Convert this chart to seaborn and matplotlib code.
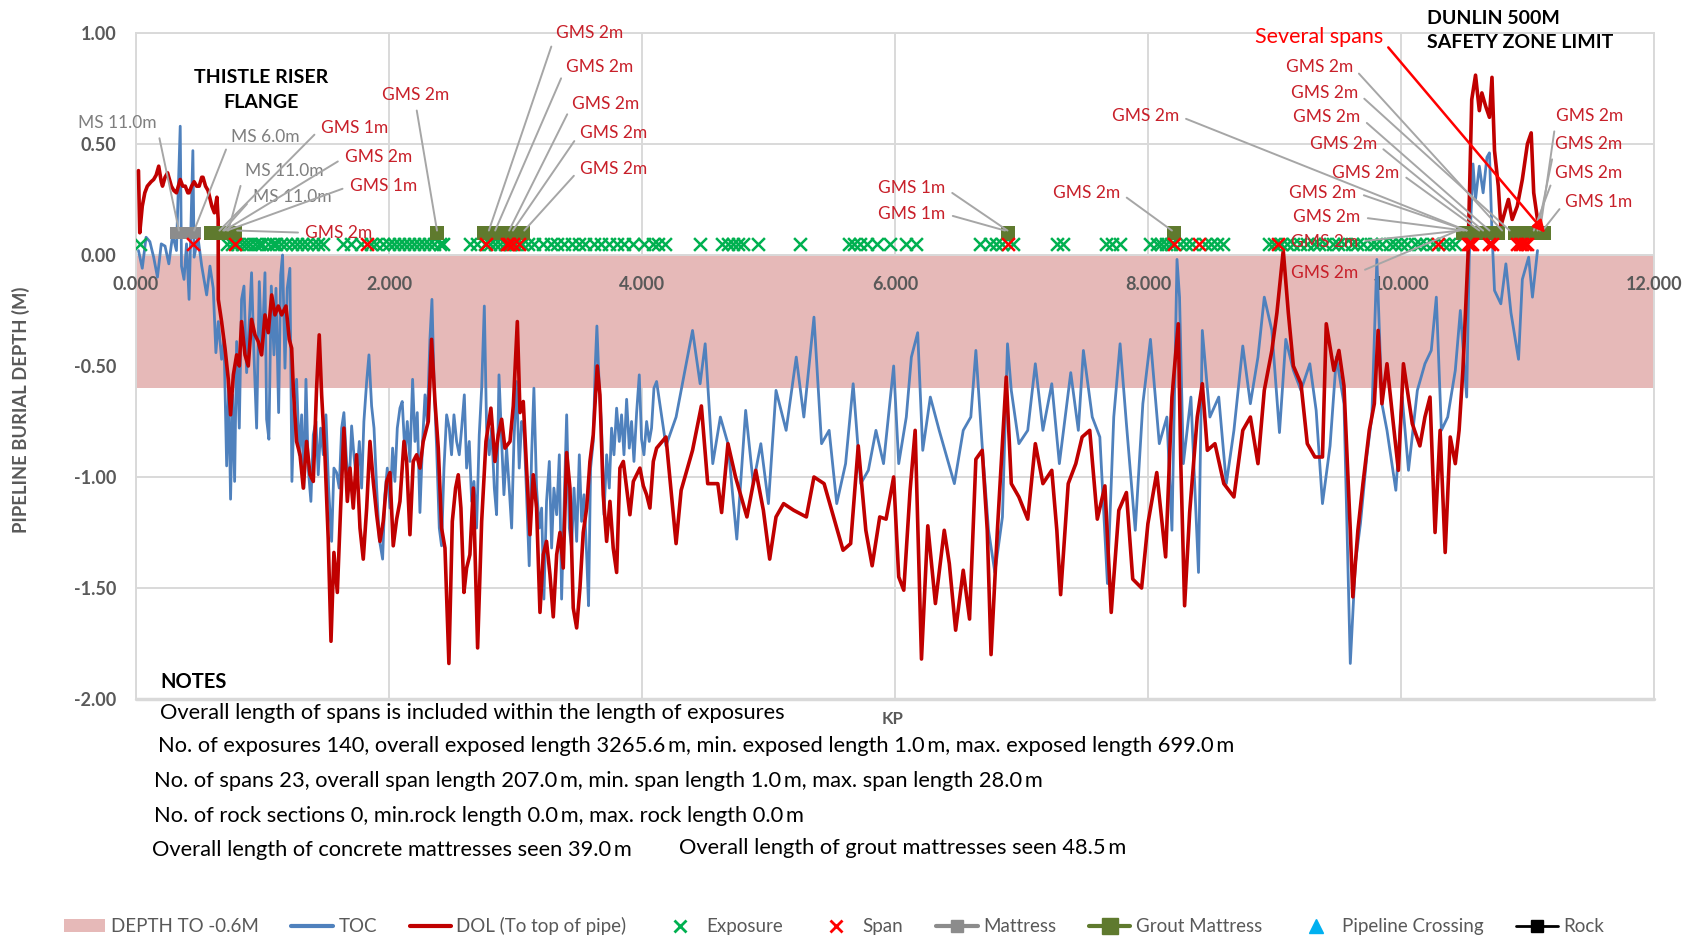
import matplotlib
matplotlib.use("Agg")
import matplotlib.pyplot as plt
import seaborn as sns
from matplotlib.lines import Line2D
from matplotlib.patches import Patch

# ---------------- data ----------------
TOC_KP = [0.02,0.05,0.08,0.11,0.14,0.17,0.20,0.23,0.26,0.29,0.32,0.35,0.36,0.38,0.40,0.42,0.45,0.46,0.49,0.52,
          0.532,0.559,0.585,0.611,0.632,0.651,0.677,0.696,0.717,0.733,0.748,0.764,0.780,0.796,0.817,0.835,0.854,0.875,0.896,0.914,
          0.933,0.954,0.975,0.996,1.020,1.033,1.051,1.070,1.091,1.107,1.128,1.144,1.159,1.178,1.196,1.217,1.233,1.252,1.270,1.291,
          1.310,1.328,1.344,1.362,1.383,1.402,1.423,1.441,1.460,1.481,1.502,1.523,1.547,1.565,1.586,1.607,1.626,1.644,1.665,1.686,
          1.705,1.723,1.744,1.766,1.784,1.802,1.824,1.842,1.863,1.882,1.903,1.924,1.950,1.968,1.987,2.008,2.029,2.047,2.066,2.087,
          2.105,2.127,2.145,2.166,2.187,2.206,2.224,2.245,2.266,2.285,2.303,2.324,2.340,2.358,2.377,2.398,2.416,2.435,2.456,2.477,
          2.495,2.514,2.535,2.556,2.575,2.596,2.614,2.635,2.654,2.672,2.693,2.714,2.733,2.754,2.772,2.793,2.812,2.833,2.851,2.870,
          2.891,2.909,2.930,2.951,2.970,2.988,3.009,3.030,3.049,3.067,3.088,3.109,3.128,3.146,3.167,3.189,3.207,3.225,3.246,3.268,
          3.286,3.304,3.326,3.347,3.365,3.384,3.405,3.426,3.444,3.463,3.484,3.505,3.523,3.542,3.563,3.578,3.594,3.615,3.631,3.644,
          3.663,3.681,3.700,3.721,3.742,3.760,3.779,3.800,3.821,3.839,3.858,3.879,3.900,3.918,3.937,3.958,3.979,3.997,4.016,4.037,
          4.058,4.076,4.095,4.116,
          4.19,4.27,4.33,4.40,4.46,4.50,4.56,4.62,4.68,4.75,4.82,4.88,4.94,5.00,5.06,5.14,5.22,5.28,5.36,5.42,5.48,5.54,
          5.61,5.67,5.73,5.79,5.85,5.91,5.99,6.03,
          6.09,6.13,6.18,6.22,6.28,6.35,6.41,6.47,6.54,6.60,6.64,6.69,6.74,6.79,6.85,6.89,6.92,6.98,7.05,7.11,7.17,7.24,7.30,7.39,
          7.45,7.49,7.56,7.62,7.68,7.73,7.78,7.83,7.90,7.96,8.02,8.09,8.15,8.19,8.23,8.25,8.28,8.34,8.40,8.43,8.49,8.56,8.62,8.68,
          8.75,8.81,8.87,8.92,8.98,9.04,9.09,9.15,9.21,9.28,9.33,9.38,9.44,9.49,9.55,9.60,9.64,9.68,9.73,9.77,9.81,9.85,9.89,9.96,
          10.01,10.06,10.13,10.19,10.24,10.28,10.32,10.37,10.43,10.47,10.52,10.54,
          10.57,10.59,10.62,10.65,10.68,10.70,10.72,10.74,10.79,10.83,10.87,10.93,10.96,11.01,11.04,11.08]
TOC_DEPTH = [0.02,-0.06,0.08,0.06,-0.01,-0.10,0.05,0.04,-0.04,0.09,0.02,0.58,-0.05,-0.11,0.05,-0.20,0.47,-0.01,0.08,-0.05,
             -0.09,-0.18,-0.05,-0.15,-0.44,-0.30,-0.47,-0.38,-0.95,-0.60,-1.10,-0.63,-1.02,-0.39,-0.78,-0.20,-0.14,-0.53,-0.30,-0.08,
             -0.45,-0.78,-0.12,-0.45,-0.08,-0.74,-0.83,-0.14,-0.45,-0.15,-0.71,-0.09,0.00,-0.51,-0.15,-0.06,-1.02,-0.65,-0.56,-0.90,
             -0.72,-1.05,-0.56,-0.96,-1.11,-0.81,-0.75,-0.99,-0.78,-0.90,-0.72,-1.05,-1.29,-0.96,-0.98,-1.05,-0.78,-0.71,-0.93,-1.04,
             -0.77,-0.90,-1.02,-0.84,-1.05,-0.75,-0.57,-0.45,-0.68,-0.78,-1.05,-1.28,-1.37,-1.08,-0.96,-1.14,-0.87,-1.02,-0.78,-0.69,
             -0.66,-0.90,-0.75,-0.93,-0.56,-0.84,-0.71,-1.16,-0.84,-0.63,-0.75,-0.38,-0.20,-0.60,-0.87,-1.23,-1.31,-0.96,-0.72,-0.78,
             -0.90,-0.72,-0.84,-0.90,-0.78,-0.63,-0.96,-0.84,-1.11,-1.02,-1.23,-0.81,-0.60,-0.23,-0.78,-0.90,-0.78,-1.05,-1.17,-0.54,
             -0.84,-1.08,-0.87,-1.05,-1.23,-0.84,-0.57,-0.96,-0.75,-0.78,-1.08,-1.40,-0.90,-0.60,-1.05,-1.23,-1.14,-1.55,-1.11,-0.93,
             -1.32,-1.05,-1.17,-0.90,-1.55,-1.14,-0.72,-1.23,-1.32,-1.05,-1.29,-0.90,-1.20,-1.08,-1.35,-1.58,-0.96,-0.84,-0.50,-0.32,
             -0.60,-0.78,-1.17,-0.90,-1.05,-0.78,-0.90,-0.69,-0.84,-0.72,-0.90,-0.65,-0.87,-0.75,-0.93,-0.71,-0.54,-0.83,-0.90,-0.75,
             -0.84,-0.78,-0.60,-0.57,
             -0.86,-0.73,-0.55,-0.34,-0.58,-0.40,-0.94,-0.73,-0.85,-1.28,-0.70,-1.03,-0.85,-1.12,-0.61,-0.79,-0.46,-0.73,-0.28,-0.85,-0.79,-1.12,
             -0.94,-0.58,-1.03,-0.97,-0.79,-0.94,-0.50,-0.94,
             -0.73,-0.46,-0.35,-0.88,-0.64,-0.79,-0.91,-1.03,-0.79,-0.73,-0.43,-0.86,-1.24,-1.43,-1.18,-0.40,-0.61,-0.85,-0.79,-0.49,-0.79,-0.58,-0.94,-0.53,
             -0.79,-0.43,-0.73,-0.82,-1.48,-0.73,-0.40,-0.76,-1.24,-0.67,-0.38,-0.85,-0.73,-1.24,-0.02,-0.19,-0.94,-0.64,-1.43,-0.34,-0.73,-0.64,-1.03,-0.79,
             -0.41,-0.67,-0.46,-0.19,-0.34,-0.80,-0.38,-0.52,-0.61,-0.49,-0.70,-1.12,-0.86,-0.46,-0.67,-1.84,-1.39,-1.21,-0.91,-0.73,-0.02,-0.67,-0.79,-1.06,
             -0.64,-0.97,-0.61,-0.49,-0.43,-0.19,-0.79,-0.73,-0.52,-0.25,-0.64,-0.02,
             0.41,0.25,0.40,0.28,0.44,0.46,0.10,-0.16,-0.22,-0.04,-0.26,-0.47,-0.11,-0.01,-0.19,0.02]

DOL_KP = [0.02,0.03,0.05,0.07,0.09,0.12,0.14,0.16,0.18,0.20,0.21,0.23,0.25,0.27,0.28,0.30,0.32,0.34,0.35,0.37,
          0.39,0.41,0.42,0.44,0.46,0.48,0.50,0.52,0.53,0.55,0.57,0.60,0.62,0.64,0.65,
          0.651,0.677,0.704,0.730,0.748,0.770,0.796,0.817,0.835,0.862,0.888,0.914,0.941,0.967,0.993,1.020,1.046,1.073,1.099,1.125,
          1.152,1.186,1.212,1.231,1.244,1.270,1.297,1.323,1.349,1.376,1.402,1.428,1.449,1.468,1.494,1.520,1.542,1.565,1.592,1.618,
          1.644,1.671,1.692,1.718,1.744,1.771,1.797,1.824,1.850,1.876,1.903,1.929,1.955,1.982,2.008,2.034,2.061,2.087,2.119,2.140,
          2.166,2.192,2.219,2.245,2.271,2.311,2.337,2.364,2.390,2.416,2.443,2.474,2.501,2.527,2.548,2.569,2.593,2.614,2.640,2.667,
          2.701,2.733,2.767,2.806,2.838,2.864,2.891,2.917,2.957,2.983,3.015,3.036,3.062,3.088,3.115,3.141,3.167,3.194,3.220,3.246,
          3.273,3.299,3.326,3.352,3.378,3.405,3.431,3.457,3.484,3.510,3.536,3.563,3.589,3.615,3.647,3.668,3.694,3.721,3.747,3.773,
          3.800,3.826,3.853,3.879,3.905,3.932,3.958,3.984,4.011,4.037,4.063,4.090,4.116,
          4.19,4.27,4.31,4.40,4.47,4.52,4.60,4.63,4.68,4.74,4.83,4.90,4.96,5.01,5.06,5.12,5.20,5.30,5.36,5.44,5.52,5.59,5.65,5.71,5.77,
          5.82,5.88,5.93,5.99,6.03,
          6.07,6.12,6.16,6.21,6.26,6.32,6.39,6.43,6.48,6.54,6.59,6.64,6.69,6.73,6.76,6.81,6.88,6.92,6.98,7.05,
          7.11,7.17,7.24,7.28,7.31,7.37,7.43,7.48,7.54,7.60,7.66,7.71,7.77,7.83,7.88,7.95,8.00,8.07,8.14,8.19,
          8.24,8.26,8.29,8.33,8.39,8.43,8.47,8.53,8.60,8.68,8.75,8.81,8.87,8.92,8.98,9.02,9.07,9.11,9.15,9.21,
          9.26,9.32,9.38,9.41,9.47,9.51,9.55,9.60,9.62,9.66,9.70,9.75,9.79,9.82,9.85,9.89,9.94,9.98,10.02,10.09,
          10.15,10.19,10.23,10.27,10.31,10.35,10.39,10.43,10.46,10.49,10.53,
          10.56,10.59,10.62,10.64,10.67,10.70,10.72,10.74,10.77,10.79,10.82,10.85,10.88,10.92,10.96,11.00,11.03,11.05,11.08,11.11]
DOL_DEPTH = [0.38,0.10,0.22,0.28,0.31,0.33,0.34,0.36,0.40,0.33,0.31,0.35,0.37,0.33,0.31,0.29,0.28,0.32,0.34,0.31,
             0.31,0.28,0.28,0.31,0.33,0.31,0.31,0.35,0.35,0.31,0.29,0.22,0.19,0.26,0.16,
             -0.20,-0.30,-0.42,-0.56,-0.72,-0.54,-0.45,-0.50,-0.30,-0.45,-0.50,-0.29,-0.36,-0.39,-0.45,-0.27,-0.35,-0.18,-0.27,-0.23,
             -0.27,-0.23,-0.38,-0.42,-0.60,-0.84,-0.90,-1.05,-0.84,-0.99,-1.02,-0.60,-0.36,-0.63,-0.90,-1.28,-1.74,-1.34,-1.52,-1.14,
             -0.78,-1.11,-0.96,-1.14,-0.90,-1.23,-1.37,-1.14,-0.84,-1.02,-1.17,-1.29,-1.20,-1.02,-0.98,-1.31,-1.19,-1.11,-0.84,-0.93,
             -1.26,-0.93,-0.90,-0.96,-0.84,-0.75,-0.38,-0.66,-0.87,-1.23,-1.32,-1.84,-1.20,-1.05,-0.99,-1.14,-1.52,-1.41,-1.35,-1.05,
             -1.77,-1.20,-0.84,-0.69,-0.93,-0.81,-0.74,-0.87,-0.84,-0.68,-0.30,-0.71,-0.66,-0.96,-1.26,-0.99,-1.14,-1.61,-1.35,-1.29,
             -1.44,-1.63,-1.35,-1.25,-1.41,-0.89,-1.05,-1.59,-1.68,-1.50,-1.25,-1.14,-0.93,-0.81,-0.50,-0.63,-1.08,-1.29,-1.11,-1.32,
             -1.43,-0.96,-0.93,-1.05,-1.17,-1.02,-0.99,-0.96,-1.04,-1.08,-1.14,-0.93,-0.87,
             -0.82,-1.30,-1.06,-0.88,-0.68,-1.03,-1.03,-1.16,-0.85,-1.00,-1.18,-0.97,-1.15,-1.37,-1.18,-1.12,-1.15,-1.18,-1.00,-1.03,-1.19,-1.33,-1.30,-0.86,-1.24,
             -1.40,-1.18,-1.19,-1.00,-1.45,
             -1.51,-1.06,-0.79,-1.82,-1.22,-1.57,-1.24,-1.39,-1.69,-1.42,-1.64,-0.92,-0.88,-1.24,-1.80,-1.24,-0.55,-1.03,-1.09,-1.19,
             -0.85,-1.03,-0.97,-1.24,-1.53,-1.03,-0.94,-0.82,-0.79,-1.19,-1.04,-1.61,-1.15,-1.07,-1.46,-1.50,-1.21,-0.98,-1.36,-0.64,
             -0.31,-0.94,-1.58,-1.16,-0.73,-0.58,-0.88,-0.85,-1.03,-1.09,-0.79,-0.73,-0.94,-0.61,-0.43,-0.26,0.02,-0.26,-0.50,-0.58,
             -0.85,-0.91,-0.91,-0.31,-0.52,-0.43,-0.59,-1.24,-1.54,-1.24,-1.03,-0.79,-0.67,-0.34,-0.67,-0.49,-0.76,-0.97,-0.49,-0.76,
             -0.86,-0.73,-0.64,-1.25,-0.79,-1.34,-0.82,-0.94,-0.79,-0.52,-0.01,
             0.70,0.81,0.65,0.73,0.67,0.62,0.80,0.47,0.31,0.13,0.19,0.25,0.16,0.22,0.34,0.50,0.55,0.28,0.16,0.10]

EXPOSURE_KP = [0.03,0.72,0.76,0.80,0.84,0.87,0.90,0.94,0.97,1.00,1.04,1.08,1.11,1.15,1.19,1.23,1.27,1.31,1.35,1.40,1.44,1.48,
               1.64,1.70,1.78,1.86,1.90,1.95,2.00,2.04,2.08,2.12,2.16,2.20,2.24,2.28,2.32,2.36,2.40,2.43,
               2.64,2.70,2.76,2.80,2.84,2.88,2.92,2.96,3.00,3.05,3.10,3.15,3.22,3.28,3.33,3.38,3.45,3.50,3.55,3.62,3.68,3.74,3.80,3.86,3.93,
               4.02,4.09,4.13,4.18,4.46,4.63,4.68,4.72,4.76,4.80,4.92,5.25,5.64,5.68,5.72,5.78,5.86,5.96,6.09,6.17,
               6.67,6.75,6.80,6.85,6.93,7.28,7.33,7.67,7.72,7.78,8.02,8.07,8.10,8.14,8.18,8.25,8.30,8.35,8.45,8.50,8.55,8.59,
               8.96,9.00,9.05,9.10,9.15,9.20,9.26,9.31,9.35,9.40,9.46,9.50,9.55,9.61,9.65,9.70,9.76,9.80,9.85,9.91,9.95,
               10.00,10.05,10.11,10.15,10.20,10.25,10.33,10.38,10.43]
SPAN_KP = [0.45,0.78,1.83,2.77,2.93,2.95,2.98,3.03,6.89,8.21,8.40,9.03,10.29,10.53,10.55,10.56,10.70,10.72,10.92,10.94,10.96,10.98,11.00]
MATTRESS_KP = [0.32,0.37,0.42,0.47]
GROUT_KP = [0.59,0.64,0.69,0.74,0.78,2.38,2.75,2.82,2.88,2.94,3.00,3.06,6.89,8.21,
            10.49,10.55,10.61,10.67,10.73,10.77,10.90,10.96,11.02,11.08,11.13]
EXPOSURE_LEVEL = 0.05
MATTRESS_LEVEL = 0.10

X_TICKS = [0, 2, 4, 6, 8, 10, 12]
Y_TICKS = [-2.0, -1.5, -1.0, -0.5, 0.0, 0.5, 1.0]

LEGEND_LABELS = ["DEPTH TO -0.6M", "TOC", "DOL (To top of pipe)", "Exposure", "Span",
                 "Mattress", "Grout Mattress", "Pipeline Crossing", "Rock"]

NOTES = ["Overall length of spans is included within the length of exposures",
         "No. of exposures 140, overall exposed length 3265.6\u2009m, min. exposed length 1.0\u2009m, max. exposed length 699.0\u2009m",
         "No. of spans 23, overall span length 207.0\u2009m, min. span length 1.0\u2009m, max. span length 28.0\u2009m",
         "No. of rock sections 0, min.rock length 0.0\u2009m, max. rock length 0.0\u2009m",
         "Overall length of concrete mattresses seen 39.0\u2009m",
         "Overall length of grout mattresses seen 48.5\u2009m"]

# annotations: (text, kind, text_x, text_y, ha, target_x, target_y)
ANNOTATIONS = [
    ("MS 11.0m", "ms", 0.16, 0.595, "right", 0.34, 0.11),
    ("MS 6.0m", "ms", 0.75, 0.53, "left", 0.46, 0.11),
    ("MS 11.0m", "ms", 0.86, 0.38, "left", 0.73, 0.11),
    ("MS 11.0m", "ms", 0.925, 0.26, "left", 0.69, 0.11),
    ("GMS 1m", "gms", 1.46, 0.57, "left", 0.66, 0.11),
    ("GMS 2m", "gms", 1.65, 0.44, "left", 0.70, 0.11),
    ("GMS 1m", "gms", 1.69, 0.31, "left", 0.72, 0.11),
    ("GMS 2m", "gms", 1.34, 0.10, "left", 0.80, 0.11),
    ("GMS 2m", "gms", 2.21, 0.72, "center", 2.38, 0.11),
    ("GMS 2m", "gms", 3.32, 1.00, "left", 2.79, 0.11),
    ("GMS 2m", "gms", 3.40, 0.847, "left", 2.84, 0.11),
    ("GMS 2m", "gms", 3.45, 0.68, "left", 2.95, 0.11),
    ("GMS 2m", "gms", 3.51, 0.55, "left", 2.98, 0.11),
    ("GMS 2m", "gms", 3.51, 0.387, "left", 3.07, 0.11),
    ("GMS 1m", "gms", 6.40, 0.30, "right", 6.89, 0.11),
    ("GMS 1m", "gms", 6.40, 0.185, "right", 6.87, 0.11),
    ("GMS 2m", "gms", 7.78, 0.28, "right", 8.19, 0.11),
    ("GMS 2m", "gms", 8.245, 0.626, "right", 10.52, 0.11),
    ("GMS 2m", "gms", 9.62, 0.847, "right", 10.80, 0.11),
    ("GMS 2m", "gms", 9.66, 0.73, "right", 10.86, 0.11),
    ("GMS 2m", "gms", 9.68, 0.62, "right", 10.70, 0.11),
    ("GMS 2m", "gms", 9.81, 0.50, "right", 10.65, 0.11),
    ("GMS 2m", "gms", 9.99, 0.37, "right", 10.62, 0.11),
    ("GMS 2m", "gms", 9.65, 0.28, "right", 10.52, 0.11),
    ("GMS 2m", "gms", 9.68, 0.17, "right", 10.50, 0.11),
    ("GMS 2m", "gms", 9.66, 0.06, "right", 10.47, 0.11),
    ("GMS 2m", "gms", 9.66, -0.08, "right", 10.45, 0.11),
    ("GMS 2m", "gms", 11.23, 0.626, "left", 11.10, 0.11),
    ("GMS 2m", "gms", 11.22, 0.50, "left", 11.08, 0.11),
    ("GMS 2m", "gms", 11.22, 0.37, "left", 11.05, 0.11),
    ("GMS 1m", "gms", 11.30, 0.24, "left", 11.12, 0.11),
]

# ---------------- style ----------------
PINK = "#E6B9B8"
BLUE = "#4F81BD"
RED = "#C00000"
GREEN = "#00B050"
SPANRED = "#FF0000"
GRAY = "#8C8C8C"
OLIVE = "#5F7A2E"
GRID = "#D9D9D9"
TXT = "#595959"
GMS_COLOR = "#C8202A"
MS_COLOR = "#7F7F7F"

sns.set_theme(style="white")
plt.rcParams['font.family'] = ['Lato', 'DejaVu Sans']

fig = plt.figure(figsize=(16.93, 9.39), dpi=100)
ax = fig.add_axes([0.0803, 0.2556, 0.8966, 0.7093])

# grid drawn beneath the pink band, tick labels above it
for xv in X_TICKS:
    ax.axvline(xv, color=GRID, lw=1.4, zorder=0.6)
for yv in Y_TICKS:
    ax.axhline(yv, color=GRID, lw=1.4, zorder=0.6)
ax.axhspan(-0.6, 0, color=PINK, zorder=1, lw=0)
ax.axhline(0, color=GRID, lw=1.4, zorder=1.1)

sns.lineplot(x=TOC_KP, y=TOC_DEPTH, ax=ax, color=BLUE, lw=2.0, sort=False, estimator=None, zorder=3)
sns.lineplot(x=DOL_KP, y=DOL_DEPTH, ax=ax, color=RED, lw=2.6, sort=False, estimator=None, zorder=4)

sns.scatterplot(x=EXPOSURE_KP, y=[EXPOSURE_LEVEL] * len(EXPOSURE_KP), ax=ax, marker="x",
                s=85, color=GREEN, linewidth=1.8, zorder=5)
sns.scatterplot(x=MATTRESS_KP, y=[MATTRESS_LEVEL] * len(MATTRESS_KP), ax=ax, marker="s",
                s=75, color=GRAY, edgecolor=GRAY, linewidth=0, zorder=6)
sns.scatterplot(x=GROUT_KP, y=[MATTRESS_LEVEL] * len(GROUT_KP), ax=ax, marker="s",
                s=115, color=OLIVE, edgecolor=OLIVE, linewidth=0, zorder=6)
sns.scatterplot(x=SPAN_KP, y=[EXPOSURE_LEVEL] * len(SPAN_KP), ax=ax, marker="x",
                s=85, color=SPANRED, linewidth=1.8, zorder=7)

ax.set_xlim(0, 12)
ax.set_ylim(-2, 1)
ax.set_xticks(X_TICKS)
ax.set_xticklabels([f"{v:.3f}" for v in X_TICKS])
ax.set_yticks(Y_TICKS)
ax.set_yticklabels([f"{v:.2f}" for v in Y_TICKS])
ax.grid(False)
ax.set_axisbelow(False)
ax.spines['bottom'].set_position(('data', 0))
ax.spines['bottom'].set_visible(False)
for k in ['left', 'right', 'top']:
    ax.spines[k].set_color(GRID)
    ax.spines[k].set_linewidth(1.4)
ax.axhline(-2, color=GRID, lw=2.5, clip_on=False, zorder=2)
ax.tick_params(axis='x', length=0, pad=15, labelsize=13, labelcolor=TXT)
ax.tick_params(axis='y', length=0, pad=14, labelsize=13, labelcolor=TXT)
for lab in ax.get_xticklabels() + ax.get_yticklabels():
    lab.set_fontweight('bold')

ax.set_ylabel("PIPELINE BURIAL DEPTH (M)", fontsize=13.2, fontweight='bold', color=TXT)
ax.yaxis.set_label_coords(-0.0698, 0.434)
ax.set_xlabel("KP", fontsize=12, color=TXT, fontweight='bold')
ax.xaxis.set_label_coords(0.4987, -0.018)

# annotations
for text, kind, tx, ty, ha, x, y in ANNOTATIONS:
    col = GMS_COLOR if kind == "gms" else MS_COLOR
    rel = {"right": (1.0, 0.5), "left": (0.0, 0.5), "center": (0.5, 0.0)}[ha]
    ax.annotate(text, xy=(x, y), xytext=(tx, ty), ha=ha, va='center', fontsize=12.5, color=col,
                annotation_clip=False, zorder=8,
                arrowprops=dict(arrowstyle='-', color='#A6A6A6', lw=1.4, relpos=rel,
                                shrinkA=3, shrinkB=0))

ax.annotate("Several spans", xy=(11.14, 0.10), xytext=(9.86, 0.98), ha='right', va='center',
            fontsize=15.5, color=SPANRED, annotation_clip=False, zorder=8,
            arrowprops=dict(arrowstyle='-|>', color=SPANRED, lw=1.8, relpos=(1.0, 0.3),
                            shrinkA=2, shrinkB=0, mutation_scale=18))

ax.text(0.99, 0.743, "THISTLE RISER\nFLANGE", ha='center', va='center', fontsize=14,
        fontweight='bold', color='black', linespacing=1.55, zorder=8)
ax.text(10.21, 1.009, "DUNLIN 500M\nSAFETY ZONE LIMIT", ha='left', va='center', fontsize=14,
        fontweight='bold', color='black', linespacing=1.5, zorder=8, clip_on=False)

# notes
fig.text(0.0945, 0.2737, "NOTES", fontsize=14.5, fontweight='bold', color='black', va='center')
NOTE_POS = [(0.0945, 0.2407), (0.0933, 0.2055), (0.0910, 0.1683), (0.0910, 0.1310),
            (0.0898, 0.0948), (0.4011, 0.0969)]
for (nx, ny), line in zip(NOTE_POS, NOTES):
    fig.text(nx, ny, line, fontsize=15.75, color='black', va='center', family=['Lato', 'DejaVu Sans'])

# legend
handles = [
    Patch(facecolor=PINK, edgecolor='none'),
    Line2D([], [], color=BLUE, lw=3),
    Line2D([], [], color=RED, lw=3),
    Line2D([], [], ls='none', marker='x', color=GREEN, ms=9, mew=2),
    Line2D([], [], ls='none', marker='x', color=SPANRED, ms=9, mew=2),
    Line2D([], [], color=GRAY, lw=3, marker='s', ms=9),
    Line2D([], [], color=OLIVE, lw=3, marker='s', ms=11),
    Line2D([], [], ls='none', marker='^', color='#00B0F0', ms=10),
    Line2D([], [], color='black', lw=2, marker='s', ms=9),
]
fig.legend(handles, LEGEND_LABELS, loc='center', bbox_to_anchor=(0.4926, 0.0135), ncol=9,
           frameon=False, fontsize=13.5, handlelength=2.2, columnspacing=1.75, handletextpad=0.3,
           labelcolor=TXT)

fig.savefig("out.png", dpi=100, facecolor='white')
